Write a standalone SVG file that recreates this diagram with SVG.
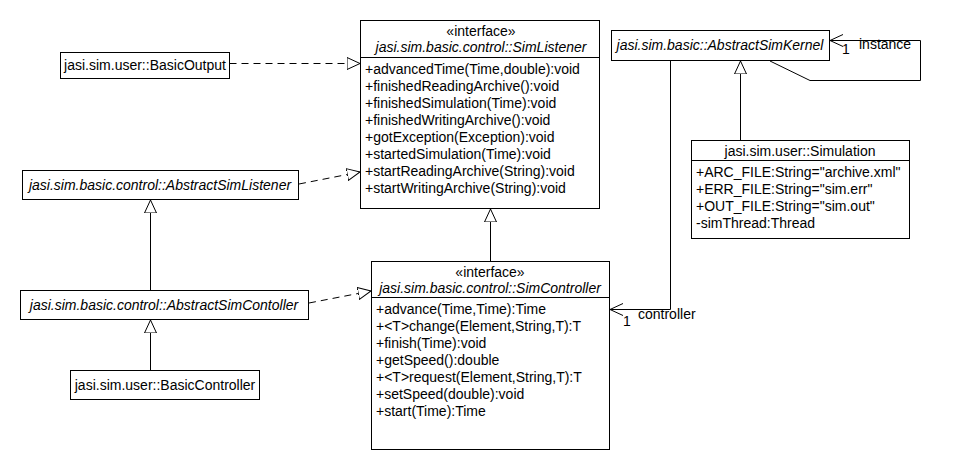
<svg xmlns="http://www.w3.org/2000/svg" width="960" height="470" viewBox="0 0 960 470">
<style>
.t{font-family:"Liberation Sans",Arial,sans-serif;font-size:14px;fill:#000}
.i{font-style:italic}
.c{text-anchor:middle}
.box{fill:#fff;stroke:#000;stroke-width:1}
.ln{fill:none;stroke:#000;stroke-width:1}
.dash{fill:none;stroke:#000;stroke-width:1;stroke-dasharray:7,5}
</style>
<defs>
<marker id="tri" viewBox="0 0 14 14" refX="13" refY="7" markerWidth="14" markerHeight="14" markerUnits="userSpaceOnUse" orient="auto">
<path d="M0,1 L13,7 L0,13 Z" fill="#fff" stroke="#000" stroke-width="1" stroke-dasharray="none"/>
</marker>
<marker id="open" viewBox="0 0 14 14" refX="13" refY="7" markerWidth="14" markerHeight="14" markerUnits="userSpaceOnUse" orient="auto">
<path d="M0,1 L13,7 L0,13" fill="none" stroke="#000" stroke-width="1"/>
</marker>
</defs>
<rect width="960" height="470" fill="#fff"/>

<g id="connectors">
<line class="dash" x1="229.5" y1="63.5" x2="360" y2="63.5" marker-end="url(#tri)"/>
<line class="dash" x1="299" y1="184" x2="360" y2="172" marker-end="url(#tri)"/>
<line class="dash" x1="309" y1="303" x2="371" y2="291" marker-end="url(#tri)"/>
<line class="ln" x1="150.5" y1="290" x2="150.5" y2="200" marker-end="url(#tri)"/>
<line class="ln" x1="150.5" y1="370" x2="150.5" y2="320" marker-end="url(#tri)"/>
<line class="ln" x1="490.5" y1="261" x2="490.5" y2="209" marker-end="url(#tri)"/>
<line class="ln" x1="740.5" y1="140" x2="740.5" y2="61" marker-end="url(#tri)"/>
<path class="ln" d="M770,61 L810,80.5 L920.5,80.5 L920.5,40.5 L830,40.5" marker-end="url(#open)"/>
<text class="t" x="842" y="54">1</text>
<text class="t" x="859" y="49">instance</text>
<path class="ln" d="M670.5,61 L670.5,309.5 L610,309.5" marker-end="url(#open)"/>
<text class="t" x="623" y="326">1</text>
<text class="t" x="638" y="319">controller</text>
</g>

<g id="SimListener">
<rect class="box" x="360.5" y="20.5" width="239" height="188"/>
<line class="ln" x1="360.5" y1="57.5" x2="599.5" y2="57.5"/>
<text class="t c" x="481" y="36">«interface»</text>
<text class="t i c" x="481" y="52">jasi.sim.basic.control::SimListener</text>
<text class="t" x="365" y="74">+advancedTime(Time,double):void</text>
<text class="t" x="365" y="91">+finishedReadingArchive():void</text>
<text class="t" x="365" y="108">+finishedSimulation(Time):void</text>
<text class="t" x="365" y="125">+finishedWritingArchive():void</text>
<text class="t" x="365" y="142">+gotException(Exception):void</text>
<text class="t" x="365" y="159">+startedSimulation(Time):void</text>
<text class="t" x="365" y="176">+startReadingArchive(String):void</text>
<text class="t" x="365" y="193">+startWritingArchive(String):void</text>
</g>

<g id="SimController">
<rect class="box" x="371.5" y="261.5" width="238" height="188"/>
<line class="ln" x1="371.5" y1="297.5" x2="609.5" y2="297.5"/>
<text class="t c" x="490" y="277">«interface»</text>
<text class="t i c" x="490" y="293">jasi.sim.basic.control::SimController</text>
<text class="t" x="376" y="314">+advance(Time,Time):Time</text>
<text class="t" x="376" y="331">+&lt;T&gt;change(Element,String,T):T</text>
<text class="t" x="376" y="348">+finish(Time):void</text>
<text class="t" x="376" y="365">+getSpeed():double</text>
<text class="t" x="376" y="382">+&lt;T&gt;request(Element,String,T):T</text>
<text class="t" x="376" y="399">+setSpeed(double):void</text>
<text class="t" x="376" y="416">+start(Time):Time</text>
</g>

<g id="AbstractSimKernel">
<rect class="box" x="611.5" y="30.5" width="218" height="30"/>
<text class="t i c" x="720" y="50">jasi.sim.basic::AbstractSimKernel</text>
</g>

<g id="Simulation">
<rect class="box" x="691.5" y="140.5" width="218" height="98"/>
<line class="ln" x1="691.5" y1="160.5" x2="909.5" y2="160.5"/>
<text class="t c" x="800" y="156">jasi.sim.user::Simulation</text>
<text class="t" x="696" y="177">+ARC_FILE:String="archive.xml"</text>
<text class="t" x="696" y="194">+ERR_FILE:String="sim.err"</text>
<text class="t" x="696" y="211">+OUT_FILE:String="sim.out"</text>
<text class="t" x="696" y="228">-simThread:Thread</text>
</g>

<g id="BasicOutput">
<rect class="box" x="60.5" y="52.5" width="169" height="26"/>
<text class="t c" x="145" y="70">jasi.sim.user::BasicOutput</text>
</g>

<g id="AbstractSimListener">
<rect class="box" x="22.5" y="170.5" width="276" height="29"/>
<text class="t i c" x="160" y="190">jasi.sim.basic.control::AbstractSimListener</text>
</g>

<g id="AbstractSimContoller">
<rect class="box" x="20.5" y="290.5" width="288" height="29"/>
<text class="t i c" x="164" y="310">jasi.sim.basic.control::AbstractSimContoller</text>
</g>

<g id="BasicController">
<rect class="box" x="70.5" y="370.5" width="189" height="29"/>
<text class="t c" x="165" y="390">jasi.sim.user::BasicController</text>
</g>
</svg>
